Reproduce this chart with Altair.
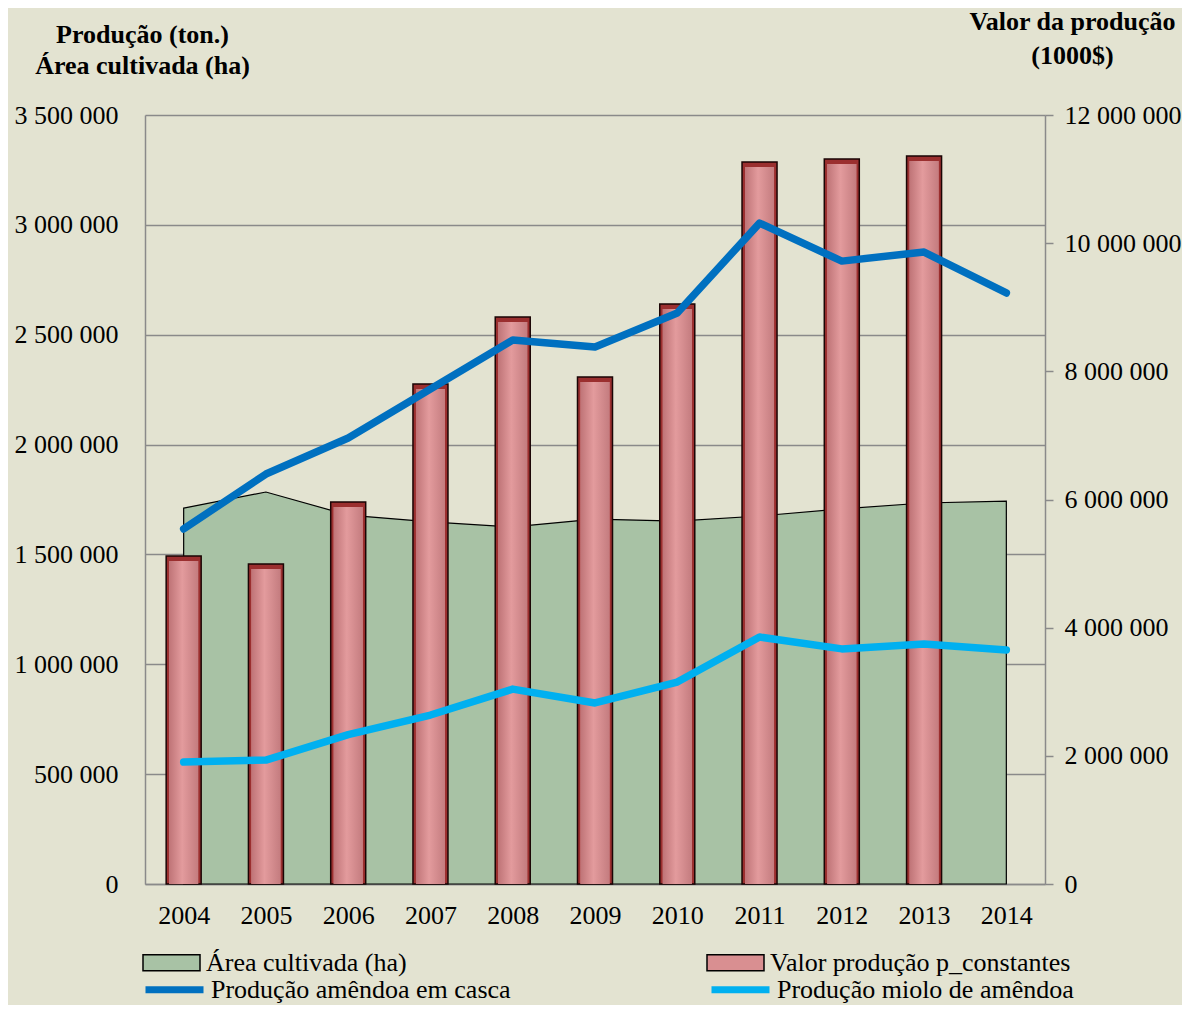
import altair as alt
import pandas as pd

years = ["2004", "2005", "2006", "2007", "2008", "2009", "2010", "2011", "2012", "2013", "2014"]
area_ha = [1711000, 1784000, 1679000, 1648000, 1625000, 1661000, 1652000, 1675000, 1707000, 1734000, 1743000]
bar_years = ["2004", "2005", "2006", "2007", "2008", "2009", "2010", "2011", "2012", "2013"]
valor = [5118000, 4993000, 5961000, 7802000, 8848000, 7912000, 9051000, 11267000, 11313000, 11360000]
casca = [1616000, 1866000, 2030000, 2253000, 2476000, 2444000, 2599000, 3008000, 2835000, 2876000, 2690000]
miolo = [555000, 564000, 680000, 769000, 887000, 824000, 919000, 1124000, 1070000, 1092000, 1065000]

left_ticks = [0, 500000, 1000000, 1500000, 2000000, 2500000, 3000000, 3500000]
right_ticks = [0, 2000000, 4000000, 6000000, 8000000, 10000000, 12000000]

AREA = "Área cultivada (ha)"
VALOR = "Valor produção p_constantes"
CASCA = "Produção amêndoa em casca"
MIOLO = "Produção miolo de amêndoa"

area_df = pd.DataFrame({"year": years, "value": area_ha, "series": AREA})
bar_df = pd.DataFrame({"year": bar_years, "value": valor, "series": VALOR})
line_df = pd.concat([
    pd.DataFrame({"year": years, "value": casca, "series": CASCA}),
    pd.DataFrame({"year": years, "value": miolo, "series": MIOLO}),
])

FONT = "Liberation Serif"
GRAY = "#8A8A8A"
fmt = "replace(format(datum.value, ','), /,/g, ' ')"

x_enc = alt.X(
    "year:N",
    scale=alt.Scale(type="point", domain=years, padding=0.47),
    axis=alt.Axis(title=None, labelAngle=0, ticks=False, labelPadding=18,
                  labelFont=FONT, labelFontSize=26, labelColor="black",
                  domainColor=GRAY, domainWidth=1.5, grid=False),
)

fill_scale = alt.Scale(domain=[AREA, VALOR], range=["#A8C2A5", "#D98F91"])
fill_legend = alt.Legend(
    title=None, orient="none", legendX=-3, legendY=818, direction="horizontal",
    columns=2, columnPadding=297, symbolType="M-1,-0.28H1V0.28H-1Z", symbolSize=3249,
    symbolStrokeColor="black", symbolStrokeWidth=1.5, symbolOpacity=1,
    labelFont=FONT, labelFontSize=26, labelColor="black", labelOffset=5, labelLimit=500,
)
stroke_scale = alt.Scale(domain=[CASCA, MIOLO], range=["#0070C0", "#00B0F0"])
stroke_legend = alt.Legend(
    title=None, orient="none", legendX=-3, legendY=842, direction="horizontal",
    columns=2, columnPadding=186, symbolType="stroke", symbolSize=3364,
    symbolStrokeWidth=7, labelFont=FONT, labelFontSize=26, labelColor="black",
    labelOffset=4, labelLimit=500,
)

left_scale = alt.Scale(domain=[0, 3500000], nice=False, zero=True)
right_scale = alt.Scale(domain=[0, 12000000], nice=False, zero=True)

area = alt.Chart(area_df).mark_area(stroke="black", strokeWidth=1.2, opacity=1).encode(
    x=x_enc,
    y=alt.Y("value:Q", scale=left_scale,
            axis=alt.Axis(orient="left", values=left_ticks, labelExpr=fmt, ticks=False,
                          labelPadding=27, labelFont=FONT, labelFontSize=26, labelColor="black",
                          domainColor=GRAY, domainWidth=1.5, grid=True, gridColor=GRAY,
                          gridWidth=1.5, title=["Produção  (ton.)", "Área cultivada (ha)"],
                          titleAngle=0, titleX=-3, titleY=-73, titleAlign="center",
                          titleBaseline="alphabetic", titleFont=FONT, titleFontSize=26,
                          titleFontWeight="bold", titleColor="black", titleLineHeight=31)),
    fill=alt.Fill("series:N", scale=fill_scale, legend=fill_legend),
)

bar_outer = alt.Chart(bar_df).mark_bar(size=35, fill="#9B2F2F", stroke="#1A0505",
                                        strokeWidth=1.5).encode(
    x=x_enc,
    y=alt.Y("value:Q", scale=right_scale,
            axis=alt.Axis(orient="right", values=right_ticks, labelExpr=fmt, tickSize=8,
                          tickColor=GRAY, tickWidth=1.5, labelPadding=11, labelFont=FONT,
                          labelFontSize=26, labelColor="black", domainColor=GRAY,
                          domainWidth=1.5, grid=False, title=["Valor da produção", "(1000$)"],
                          titleAngle=0, titleX=27, titleY=-86, titleAlign="center",
                          titleBaseline="alphabetic", titleFont=FONT, titleFontSize=26,
                          titleFontWeight="bold", titleColor="black", titleLineHeight=34)),
)

bar_inner = alt.Chart(bar_df).mark_bar(size=29, yOffset=5, clip=True).encode(
    x=x_enc,
    y=alt.Y("value:Q", scale=right_scale, axis=None),
    fill=alt.Fill("series:N", scale=fill_scale, legend=fill_legend),
)

bar_grad = alt.Chart(bar_df).mark_bar(
    size=29, yOffset=5, clip=True,
    fill={"gradient": "linear", "x1": 0, "x2": 1, "y1": 0, "y2": 0,
          "stops": [{"offset": 0, "color": "#BF7477"},
                    {"offset": 0.45, "color": "#E39B9D"},
                    {"offset": 1, "color": "#C47C7F"}]},
).encode(
    x=x_enc,
    y=alt.Y("value:Q", scale=right_scale, axis=None),
)

lines = alt.Chart(line_df).mark_line(strokeWidth=7.5, strokeCap="round", strokeJoin="round").encode(
    x=x_enc,
    y=alt.Y("value:Q", scale=left_scale, axis=None),
    stroke=alt.Stroke("series:N", scale=stroke_scale, legend=stroke_legend),
)

chart = alt.layer(area, bar_outer, bar_inner, bar_grad, lines).resolve_scale(
    y="independent"
).properties(
    width=900, height=769,
    padding={"left": 137, "top": 107, "right": 137, "bottom": 121},
    autosize=alt.AutoSizeParams(type="none"),
    background="#E3E3D1",
).configure_view(stroke=None).configure(font=FONT)

chart.save("out.html", embed_options={"renderer": "svg", "actions": False})
